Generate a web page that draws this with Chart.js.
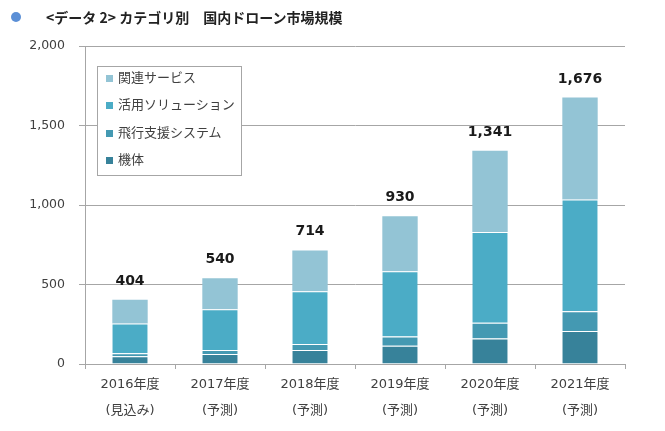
<!DOCTYPE html>
<html>
<head>
<meta charset="utf-8">
<script src="https://cdn.jsdelivr.net/npm/chart.js@4/dist/chart.umd.min.js"></script>
<style>
  html, body { margin: 0; padding: 0; background: #fff; }
  #wrap { position: relative; width: 665px; height: 431px; }
  #title { position: absolute; left: 0; top: 0; height: 34px; width: 665px; font-family: "Noto Sans CJK JP", sans-serif; font-size: 14px; font-weight: 700; color: #222; }
  #title .dot { position: absolute; left: 11px; top: 12px; width: 10px; height: 10px; border-radius: 50%; background: #5B8FD6; }
  #title .txt { position: absolute; left: 46px; top: 7px; line-height: 20px; white-space: nowrap; }
  #legend { position: absolute; left: 97px; top: 66px; width: 143px; height: 108px; border: 1px solid #A6A6A6; background: #fff; font-family: "Noto Sans CJK JP", sans-serif; font-size: 13px; color: #404040; }
  #legend .row { position: absolute; left: 0; height: 26px; line-height: 26px; white-space: nowrap; }
  #legend .sw { position: absolute; left: 8px; top: 11px; width: 7px; height: 7px; }
  #legend .lb { position: absolute; left: 20px; top: 0; }
  canvas { position: absolute; left: 0; top: 0; }
</style>
</head>
<body>
<div id="wrap">
  <canvas id="c" width="665" height="431"></canvas>
  <div id="title"><span class="dot"></span><span class="txt">&lt;データ 2&gt; カテゴリ別　国内ドローン市場規模</span></div>
  <div id="legend"></div>
</div>
<script>
// ---- data ----
const categories = [["2016年度", "(見込み)"], ["2017年度", "(予測)"], ["2018年度", "(予測)"], ["2019年度", "(予測)"], ["2020年度", "(予測)"], ["2021年度", "(予測)"]];
const seriesNames = ["機体", "飛行支援システム", "活用ソリューション", "関連サービス"];
const kitai = [48, 63, 88, 115, 161, 207];
const hikoShien = [19, 25, 38, 58, 98, 125];
const katsuyo = [188, 257, 332, 411, 571, 702];
const kanren = [149, 195, 256, 346, 511, 642];
const totals = [404, 540, 714, 930, 1341, 1676];
const yTicks = [0, 500, 1000, 1500, 2000];

const colors = ["#37829A", "#4499B2", "#4BACC6", "#93C4D5"];
const seriesValues = [kitai, hikoShien, katsuyo, kanren];

const fmt = v => v.toLocaleString("en-US");

const totalLabels = {
  id: "totalLabels",
  afterDatasetsDraw(chart) {
    const ctx = chart.ctx;
    const meta = chart.getDatasetMeta(chart.data.datasets.length - 1);
    ctx.save();
    ctx.font = "bold 14px 'DejaVu Sans', sans-serif";
    ctx.fillStyle = "#1a1a1a";
    ctx.textAlign = "center";
    ctx.textBaseline = "alphabetic";
    meta.data.forEach((bar, i) => {
      ctx.fillText(fmt(totals[i]), bar.x, bar.y - 15);
    });
    ctx.restore();
  }
};

const nDs = seriesNames.length;
const chart = new Chart(document.getElementById("c"), {
  type: "bar",
  data: {
    labels: categories,
    datasets: seriesNames.map((name, i) => ({
      label: name,
      data: seriesValues[i],
      backgroundColor: colors[i],
      borderColor: "#ffffff",
      borderWidth: { top: i < nDs - 1 ? 1 : 0, bottom: 0, left: 0, right: 0 },
      borderSkipped: false,
      barPercentage: 0.393,
      categoryPercentage: 1.0
    }))
  },
  options: {
    responsive: false,
    animation: false,
    devicePixelRatio: 1,
    layout: { padding: { top: 46, right: 40, bottom: 0, left: 0 } },
    plugins: {
      legend: { display: false },
      tooltip: { enabled: false }
    },
    scales: {
      x: {
        stacked: true,
        grid: { display: true, drawOnChartArea: false, drawTicks: true, tickLength: 5, color: "#A6A6A6", offset: true },
        border: { display: true, color: "#A6A6A6", width: 1 },
        ticks: {
          color: "#404040",
          padding: 3,
          maxRotation: 0,
          autoSkip: false,
          font: { family: "'DejaVu Sans', 'Noto Sans CJK JP', sans-serif", size: 13, lineHeight: 2.0 }
        },
        afterFit(scale) { scale.height = 67; }
      },
      y: {
        stacked: true,
        min: 0,
        max: 2000,
        afterBuildTicks(scale) { scale.ticks = yTicks.map(v => ({ value: v })); },
        grid: { color: "#A6A6A6", lineWidth: 1, drawTicks: true, tickLength: 6 },
        border: { display: true, color: "#A6A6A6", width: 1 },
        ticks: {
          color: "#404040",
          padding: 14,
          font: { family: "'DejaVu Sans', sans-serif", size: 12.5 },
          callback: v => fmt(v)
        },
        afterFit(scale) { scale.width = 85; }
      }
    }
  },
  plugins: [totalLabels]
});

// HTML legend, built from the chart datasets (reverse order)
const legend = document.getElementById("legend");
const dss = chart.data.datasets.slice().reverse();
dss.forEach((ds, i) => {
  const row = document.createElement("div");
  row.className = "row";
  row.style.top = Math.round(-3 + i * 27.3) + "px";
  const sw = document.createElement("span");
  sw.className = "sw";
  sw.style.background = ds.backgroundColor;
  const lb = document.createElement("span");
  lb.className = "lb";
  lb.textContent = ds.label;
  row.appendChild(sw);
  row.appendChild(lb);
  legend.appendChild(row);
});
</script>
</body>
</html>
